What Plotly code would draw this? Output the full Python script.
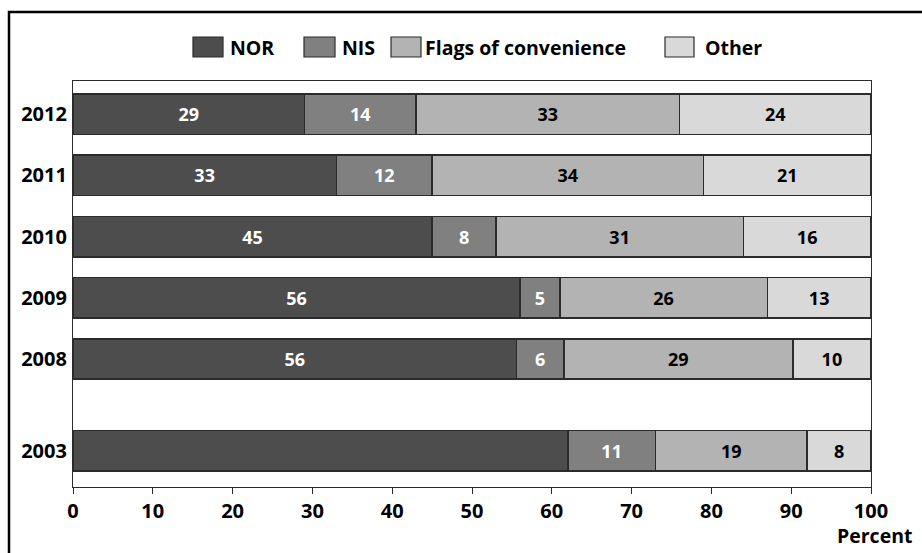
import plotly.graph_objects as go

# Fleet registration shares by year (percent)
years = ["2012", "2011", "2010", "2009", "2008", "2003"]
y_pos = [0, 1, 2, 3, 4, 5.5]          # extra gap before 2003
nor = [29, 33, 45, 56, 55.6, 62]
nis = [14, 12, 8, 5, 5.9, 11]
foc = [33, 34, 31, 26, 28.7, 19]
other = [24, 21, 16, 13, 9.8, 8]
nor_show_label = [True, True, True, True, True, False]

series = [
    ("NOR", nor, "#4d4d4d", "white"),
    ("NIS", nis, "#808080", "white"),
    ("Flags of convenience", foc, "#b3b3b3", "black"),
    ("Other", other, "#d9d9d9", "black"),
]

FONT = "Open Sans"
EDGE = "#2b2b2b"

fig = go.Figure()
for name, vals, color, tcolor in series:
    if name == "NOR":
        txt = [f"{v:.0f}" if show else "" for v, show in zip(vals, nor_show_label)]
    else:
        txt = [f"{v:.0f}" for v in vals]
    fig.add_trace(go.Bar(
        name=name, x=vals, y=y_pos, orientation="h", width=0.66,
        marker=dict(color=color, line=dict(color=EDGE, width=1.5)),
        text=txt, textposition="inside", insidetextanchor="middle",
        textangle=0, constraintext="none",
        textfont=dict(family=FONT, size=18, color=tcolor, weight="bold"),
        showlegend=False, hoverinfo="skip",
    ))

W, H = 922, 553
ML, MR, MT, MB = 73, 51, 81, 66
pw, ph = W - ML - MR, H - MT - MB

def px_x(px):
    return (px - ML) / pw

def px_y(py):
    return (H - MB - py) / ph

shapes = []
annotations = []

# outer frame (open towards right and bottom edges)
shapes.append(dict(type="rect", xref="paper", yref="paper",
                   x0=px_x(9), x1=px_x(940), y0=px_y(570), y1=px_y(12),
                   line=dict(color="black", width=2.5), layer="below"))

# legend drawn as swatches + labels
legend_items = [
    ("NOR", "#4d4d4d", 193, 223, 228),
    ("NIS", "#808080", 304, 335, 340),
    ("Flags of convenience", "#b3b3b3", 391, 421, 423),
    ("Other", "#d9d9d9", 665, 694, 703),
]
for label, color, bx0, bx1, tx in legend_items:
    shapes.append(dict(type="rect", xref="paper", yref="paper",
                       x0=px_x(bx0), x1=px_x(bx1), y0=px_y(57), y1=px_y(37),
                       fillcolor=color, line=dict(color=EDGE, width=1.2)))
    annotations.append(dict(xref="paper", yref="paper", x=px_x(tx), y=px_y(47),
                            text=label, showarrow=False, xanchor="left",
                            yanchor="middle",
                            font=dict(family=FONT, size=19.5, color="black",
                                      weight="bold")))

annotations.append(dict(xref="paper", yref="paper", x=px_x(914), y=px_y(535),
                        text="Percent", showarrow=False, xanchor="right",
                        yanchor="middle",
                        font=dict(family=FONT, size=19.5, color="black",
                                  weight="bold")))

fig.update_layout(
    barmode="stack",
    width=W, height=H,
    margin=dict(l=ML, r=MR, t=MT, b=MB, pad=0),
    paper_bgcolor="white", plot_bgcolor="white",
    shapes=shapes, annotations=annotations,
    xaxis=dict(range=[0, 100], tickvals=list(range(0, 101, 10)),
               ticks="outside", ticklen=6, tickwidth=1.2, tickcolor=EDGE,
               showgrid=False, zeroline=False,
               showline=True, linecolor=EDGE, linewidth=1.2, mirror=True,
               tickfont=dict(family=FONT, size=20, color="black", weight="bold")),
    yaxis=dict(range=[6.09, -0.54], tickvals=y_pos, ticktext=years,
               ticks="", ticklabelstandoff=1,
               showgrid=False, zeroline=False,
               showline=True, linecolor=EDGE, linewidth=1.2, mirror=True,
               tickfont=dict(family=FONT, size=20, color="black", weight="bold")),
)

fig.write_html("out.html")
